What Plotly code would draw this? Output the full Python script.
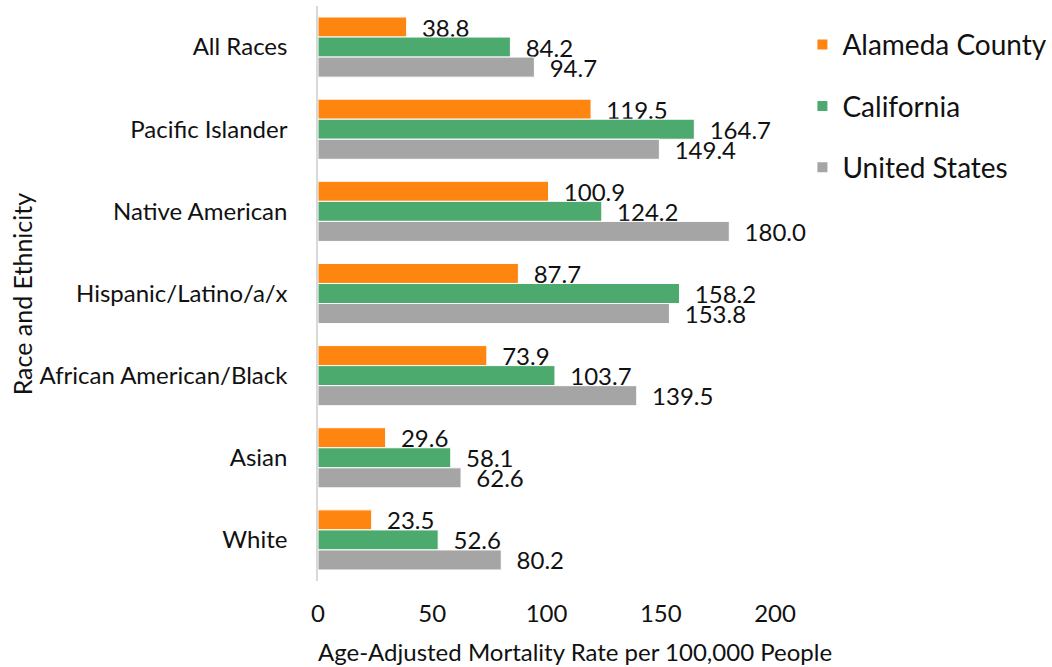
import plotly.graph_objects as go

categories = ["All Races", "Pacific Islander", "Native American", "Hispanic/Latino/a/x",
              "African American/Black", "Asian", "White"]
alameda = [38.8, 119.5, 100.9, 87.7, 73.9, 29.6, 23.5]
california = [84.2, 164.7, 124.2, 158.2, 103.7, 58.1, 52.6]
united_states = [94.7, 149.4, 180.0, 153.8, 139.5, 62.6, 80.2]
series_names = ["Alameda County", "California", "United States"]
colors = ["#FF8511", "#4DAA6E", "#A5A5A5"]

FONT = "Lato"
fig = go.Figure()
for name, vals, col in zip(series_names, [alameda, california, united_states], colors):
    fig.add_trace(go.Bar(
        y=categories, x=vals, name=name, orientation="h",
        marker=dict(color=col, line=dict(color="white", width=1)),
        text=vals, texttemplate="\u00a0\u00a0%{x:.1f}", textposition="outside",
        cliponaxis=False, constraintext="none",
        textfont=dict(family=FONT, size=24, color="#111111"),
        legendgroup=name,
    ))

fig.update_layout(
    width=1052, height=667,
    paper_bgcolor="white", plot_bgcolor="white",
    margin=dict(l=318, r=277, t=6, b=86, autoexpand=False),
    barmode="group", bargap=0.268, bargroupgap=0,
    font=dict(family=FONT, size=24, color="#111111"),
    showlegend=True,
    legend=dict(x=1.06, y=0.976, xanchor="left", yanchor="top",
                font=dict(family=FONT, size=28, color="#111111"),
                tracegroupgap=22, itemsizing="constant"),
    xaxis=dict(range=[0, 200], tickvals=[0, 50, 100, 150, 200], showgrid=False,
               zeroline=False, showline=False, ticks="", ticklabelstandoff=16,
               tickfont=dict(family=FONT, size=24, color="#111111")),
    yaxis=dict(autorange="reversed", showgrid=False, zeroline=False,
               showline=True, linecolor="#D9D9D9", linewidth=1.5, ticks="",
               ticklabelstandoff=24,
               tickfont=dict(family=FONT, size=24, color="#111111")),
    annotations=[
        dict(text="Age-Adjusted Mortality Rate per 100,000 People", xref="paper", yref="paper",
             x=0.562, y=-0.094, xanchor="center", yanchor="top", showarrow=False,
             font=dict(family=FONT, size=24, color="#111111")),
        dict(text="Race and Ethnicity", xref="paper", yref="paper", textangle=-90,
             x=-0.648, y=0.5, xanchor="center", yanchor="middle", showarrow=False,
             font=dict(family=FONT, size=25, color="#111111")),
    ],
)

fig.write_html("out.html", config={"displayModeBar": False},
               post_script="document.body.style.margin='0';document.body.style.overflow='hidden';")
